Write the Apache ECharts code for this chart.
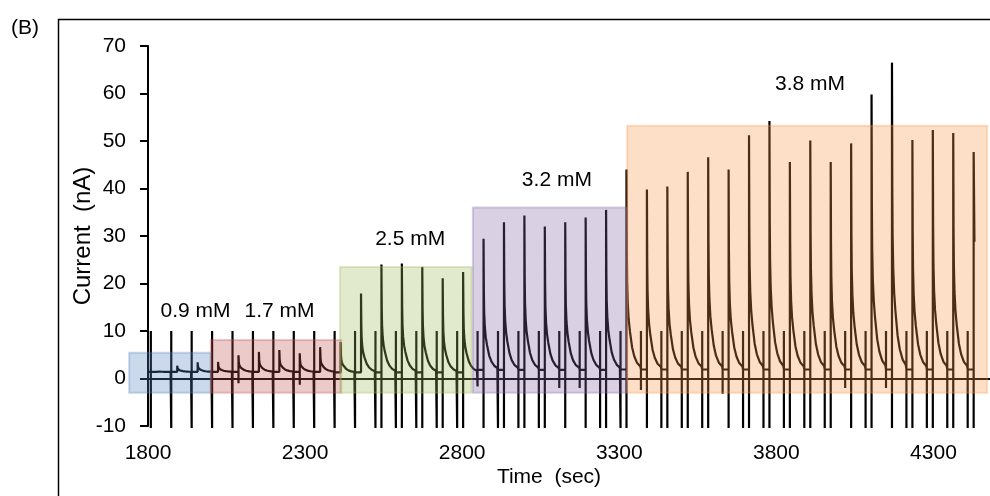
<!DOCTYPE html>
<html><head><meta charset="utf-8">
<script src="https://cdn.jsdelivr.net/npm/echarts@6/dist/echarts.min.js"></script>
<style>html,body{margin:0;padding:0;background:#fff}#c{width:990px;height:496px}</style>
</head><body><div id="c"></div>
<script>
// ---- data ----
const pulseTimes = [1809,1874,1939,2004,2069,2134,2199,2264,2329,2394,2459,2524,2589,2654,2719,2784,2849,2914,2979,3044,3109,3174,3239,3304,3369,3434,3499,3564,3629,3694,3759,3824,3889,3954,4019,4084,4149,4214,4279,4344,4409];
const thinLows = [-10.4,-10.4,-10.4,-10.4,-10.4,-10.4,-10.4,-10.4,-10.4,-10.4,-10.4,-10.4,-10.4,-10.4,-10.4,-10.4,-1.7,-10.4,-10.4,-10.4,-2.0,-2.0,-10.4,-10.4,-2.4,-10.4,-10.4,-10.4,-3.2,-10.4,-10.4,-10.4,-10.4,-10.4,-2.0,-10.4,-2.0,-10.4,-10.4,-10.4,-10.4];
const thinHigh = 10;
const peakTimes = [1828,1893,1958,2023,2088,2153,2218,2283,2348,2413,2478,2543,2608,2673,2738,2803,2868,2933,2998,3063,3128,3193,3258,3323,3388,3453,3518,3583,3648,3713,3778,3843,3908,3973,4038,4103,4168,4233,4298,4363,4428];
const baselines = [1.4,1.4,1.4,1.4,1.4,1.4,1.4,1.4,1.4,1.3,1.3,1.3,1.3,1.3,1.3,1.3,1.8,1.8,1.8,1.8,1.8,1.8,1.8,1.9,1.9,1.9,1.9,1.9,1.9,1.9,1.9,1.9,1.9,1.9,1.9,1.9,1.9,1.9,1.9,1.9,1.9];
const peakLows = [1.4,1.4,1.4,1.4,-1.0,1.4,1.4,-1.3,1.4,1.3,1.3,-10.4,-10.4,-10.4,-10.4,-10.4,-10.4,-10.4,-10.4,-10.4,-10.4,-10.4,-10.4,-10.4,-10.4,-10.4,-10.4,-10.4,-10.4,-10.4,-10.4,-10.4,-10.4,-10.4,-10.4,-10.4,-10.4,-10.4,-10.4,-10.4,-10.4];
const peakHeights = [1.6,2.7,3.4,3.5,4.9,5.6,6.0,5.3,6.6,7.7,17.9,24.0,24.2,23.5,21.1,22.4,29.4,32.9,34.3,32.0,32.9,33.9,35.5,44.0,39.8,40.4,43.5,46.6,44.0,51.2,54.2,45.6,50.1,45.6,49.5,59.8,66.5,50.2,52.3,51.7,47.7];
// decay shape after each peak (seconds after peak, share of peak height above baseline)
const decayOffsets = [0,1,2,4,7,11,18,25,34,44];
const decayShares = [1,0.6,0.44,0.33,0.25,0.19,0.11,0.065,0.032,0.015];
const traceStart = 1800;
const traceEndTime = 4430.5;
const traceEndValue = 28.8;

const regionLabels = ['0.9 mM','1.7 mM','2.5 mM','3.2 mM','3.8 mM'];
const regionStarts = [1740,2000,2411,2834,3325];
const regionEnds = [2000,2415,2830,3325,4471];
const regionTops = [5.4,8.1,23.5,36.0,53.2];
const regionBottoms = [-3.0,-3.0,-3.0,-3.0,-3.0];
const labelX = [1953,2220,2636,3103,3909];
const labelY = [14.0,14.0,29.3,41.6,61.8];

const xMin = 1800, xMax = 4480, xStep = 500;
const yMin = -10, yMax = 70, yStep = 10;

// ---- layout ----
const W = 990, gridLeft = 148, gridRight = 0, gridTop = 46, gridBottom = 70;
const areaGridLeft = 100; // wider, invisible grid so the first shaded box may reach left of the y axis
const secPerPx = (xMax - xMin) / (W - gridLeft - gridRight);
const areaXMin = xMin - (gridLeft - areaGridLeft) * secPerPx;

// ---- build trace ----
const trace = [[traceStart, baselines[0]]];
for (let i = 0; i < pulseTimes.length; i++) {
  const b = baselines[i], t = pulseTimes[i], p = peakTimes[i];
  trace.push([t, b], [t, thinLows[i]], [t, thinHigh], [t, b]);
  trace.push([p, b], [p, peakLows[i]]);
  if (i === pulseTimes.length - 1) {
    trace.push([p, peakHeights[i]], [traceEndTime, traceEndValue]);
    break;
  }
  for (let k = 0; k < decayOffsets.length; k++) {
    trace.push([p + decayOffsets[k], b + (peakHeights[i] - b) * decayShares[k]]);
  }
}

const regionColors = ['rgba(79,129,189,0.3)','rgba(192,80,77,0.3)','rgba(155,187,89,0.3)','rgba(128,100,162,0.3)','rgba(247,150,70,0.3)'];
const areas = regionLabels.map((n, i) => [
  {xAxis: regionStarts[i], yAxis: regionBottoms[i], itemStyle: {color: regionColors[i], borderColor: regionColors[i], borderWidth: 2}},
  {xAxis: regionEnds[i], yAxis: regionTops[i]}
]);
const labelData = regionLabels.map((n, i) => [labelX[i], labelY[i], n]);

const FONT = 'Liberation Sans, Arial, sans-serif';
const chart = echarts.init(document.getElementById('c'), null, {renderer: 'canvas'});
chart.setOption({
  animation: false,
  backgroundColor: '#fff',
  graphic: [
    {type: 'rect', left: 56, top: 17, shape: {x: 0, y: 0, width: 1000, height: 520}, style: {fill: 'none', stroke: '#000', lineWidth: 1.5}, silent: true, z: -1},
    {type: 'text', left: 11, top: 18, style: {text: '(B)', fontSize: 21, fontFamily: FONT, fill: '#000'}}
  ],
  grid: [
    {left: gridLeft, right: gridRight, top: gridTop, bottom: gridBottom, containLabel: false},
    {left: areaGridLeft, right: gridRight, top: gridTop, bottom: gridBottom, containLabel: false}
  ],
  xAxis: [
    {type: 'value', gridIndex: 0, min: xMin, max: xMax, interval: xStep, position: 'bottom',
     axisLine: {show: false, onZero: false}, axisTick: {show: false}, splitLine: {show: false},
     axisLabel: {show: true, margin: 17, fontSize: 21, color: '#000', fontFamily: FONT, showMaxLabel: false, formatter: v => String(v)},
     name: 'Time  (sec)', nameLocation: 'middle', nameGap: 41, nameMoveOverlap: false,
     nameTextStyle: {fontSize: 21, color: '#000', fontFamily: FONT, padding: [0, 40, 0, 0]}},
    {type: 'value', gridIndex: 0, min: xMin, max: xMax, interval: xStep, position: 'bottom',
     axisLine: {show: true, onZero: true, lineStyle: {color: '#000', width: 2}},
     axisTick: {show: false}, axisLabel: {show: false}, splitLine: {show: false}},
    {type: 'value', gridIndex: 1, min: areaXMin, max: xMax, show: false}
  ],
  yAxis: [
    {type: 'value', gridIndex: 0, min: yMin, max: yMax, interval: yStep,
     axisLine: {show: true, onZero: false, lineStyle: {color: '#000', width: 2}},
     axisTick: {show: true, inside: false, length: 8, lineStyle: {color: '#000', width: 2}},
     splitLine: {show: false},
     axisLabel: {margin: 22, fontSize: 21, color: '#000', fontFamily: FONT},
     name: 'Current  (nA)', nameLocation: 'middle', nameGap: 53, nameRotate: 90, nameMoveOverlap: false,
     nameTextStyle: {fontSize: 24, color: '#000', fontFamily: FONT}},
    {type: 'value', gridIndex: 1, min: yMin, max: yMax, show: false}
  ],
  series: [
    {type: 'line', name: 'current', data: trace, xAxisIndex: 0, yAxisIndex: 0,
     symbol: 'none', showSymbol: false, clip: false,
     lineStyle: {color: '#000', width: 2.2}, z: 2},
    {type: 'line', name: 'regions', data: [], xAxisIndex: 2, yAxisIndex: 1, symbol: 'none', z: 5,
     markArea: {silent: true, z: 5, data: areas, label: {show: false}}},
    {type: 'scatter', name: 'labels', data: labelData, xAxisIndex: 0, yAxisIndex: 0, symbolSize: 1, silent: true,
     itemStyle: {color: 'rgba(0,0,0,0)', opacity: 1},
     label: {show: true, position: [0, 0], align: 'center', verticalAlign: 'middle',
       formatter: p => p.data[2], fontSize: 21, color: '#000', opacity: 1, textBorderWidth: 0, fontFamily: FONT}, z: 6}
  ]
});
</script>
</body></html>
